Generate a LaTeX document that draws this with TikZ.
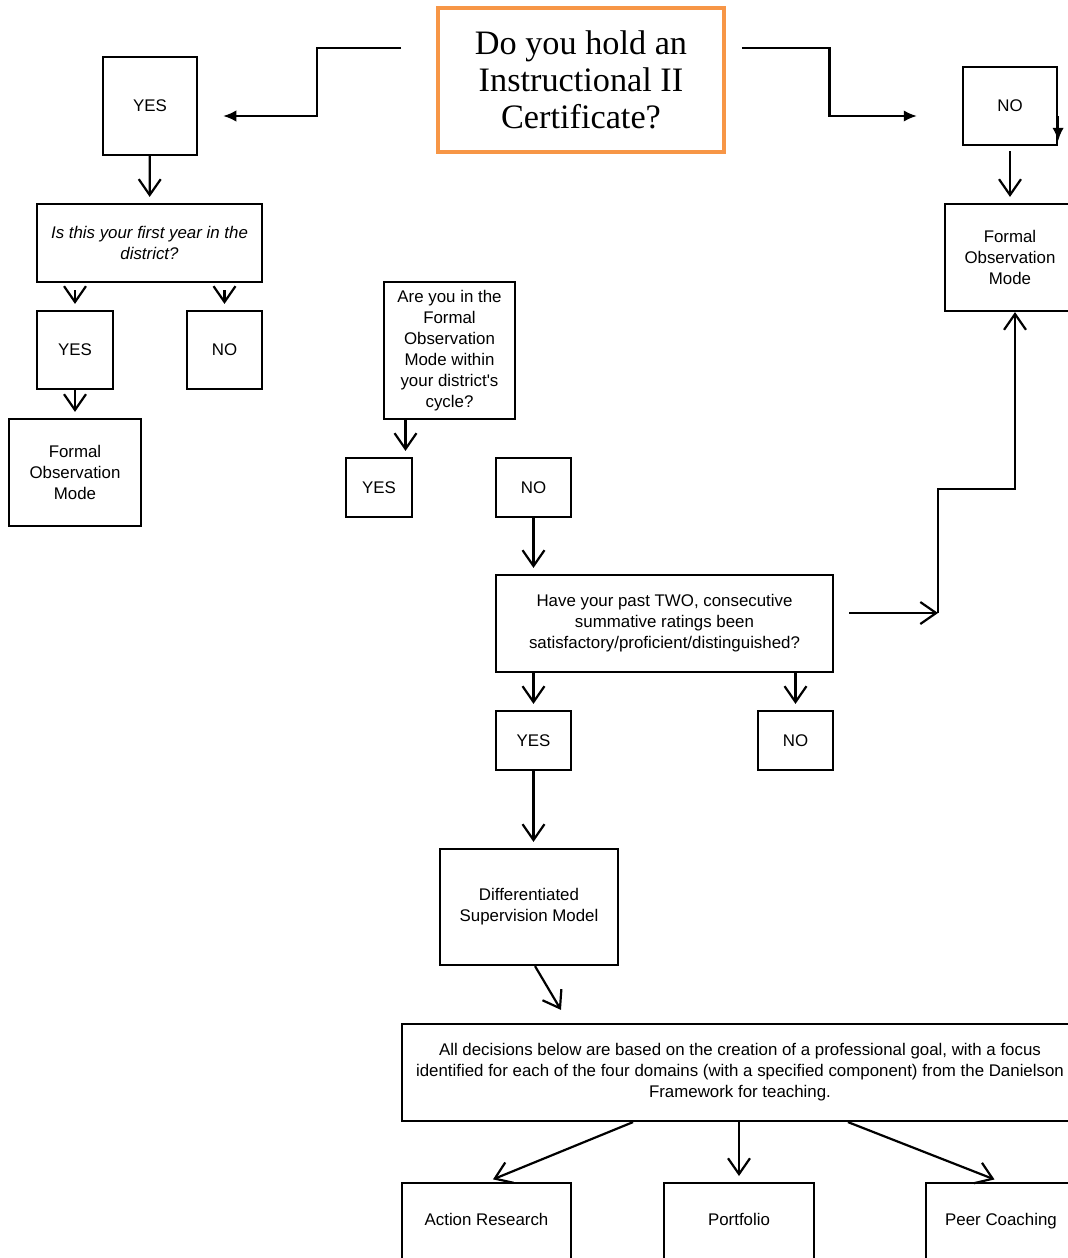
\documentclass[tikz,border=0pt]{standalone}
\usepackage{fontspec}
\setmainfont{Liberation Sans}
\newfontfamily\titlefont{Liberation Serif}
\usepackage{tikz}
\usetikzlibrary{positioning,arrows.meta,calc}
\definecolor{CertOrange}{HTML}{F79646}

\begin{document}
\begin{tikzpicture}[
      x=0.02cm, y=-0.02cm,
      every node/.style={align=center, font=\fontsize{9.6}{11.95}\selectfont},
      box/.style={draw, fill=white, line width=1.25pt, inner sep=0pt},
      leaf/.style={box, anchor=north, minimum width=3cm, inner ysep=0.6cm, text height=0.25cm, text depth=1cm},
      arrow/.style={line width=1.25pt, -{Straight Barb[length=9pt,width=12.5pt]}, shorten >=0.12cm},
      pointer/.style={line width=1.25pt, -{Latex[length=7.5pt,width=6.5pt]}}
    ]
      \useasboundingbox (0,0) rectangle (1068,1258);

      % Question boxes
      \node[box, draw=CertOrange, line width=2.3pt, minimum width=5.72cm, minimum height=2.88cm, font=\titlefont\fontsize{19.5}{21.2}\selectfont] (cert) at (581,80) {Do you hold an\\Instructional II\\Certificate?};

      \node[box, minimum width=1.88cm, minimum height=1.96cm] (yes1) at (150,106) {YES};
      \node[box, minimum width=1.88cm, minimum height=1.56cm] (no1) at (1010,106) {NO};

      \node[box, minimum width=4.5cm, minimum height=1.56cm, font=\fontsize{9.6}{11.95}\selectfont\itshape] (first) at (149.5,243) {Is this your first year in the\\district?};
      \node[box, minimum width=1.52cm, minimum height=1.56cm] (firstyes) at (75,350) {YES};
      \node[box, minimum width=1.5cm, minimum height=1.56cm] (firstno) at (224.5,350) {NO};
      \node[box, minimum width=2.64cm, minimum height=2.14cm] (formal1) at (75,472.5) {Formal\\Observation\\Mode};

      \node[box, minimum width=2.6cm, minimum height=2.14cm] (formal2) at (1010,257.5) {Formal\\Observation\\Mode};

      \node[box, minimum width=2.62cm, minimum height=2.74cm] (cycle) at (449.5,350.5) {Are you in the\\Formal\\Observation\\Mode within\\your district\textquotesingle s\\cycle?};
      \node[box, minimum width=1.32cm, minimum height=1.18cm] (cycleyes) at (379,487.5) {YES};
      \node[box, minimum width=1.5cm, minimum height=1.18cm] (cycleno) at (533.5,487.5) {NO};

      \node[box, minimum width=6.74cm, minimum height=1.94cm] (ratings) at (664.5,623.5) {Have your past TWO, consecutive\\summative ratings been\\satisfactory/proficient/distinguished?};
      \node[box, minimum width=1.5cm, minimum height=1.18cm] (ratingsyes) at (533.5,740.5) {YES};
      \node[box, minimum width=1.5cm, minimum height=1.18cm] (ratingsno) at (795.5,740.5) {NO};

      \node[box, minimum width=3.56cm, minimum height=2.32cm] (dsm) at (529,907) {Differentiated\\Supervision Model};

      \node[box, minimum width=13.52cm, minimum height=1.94cm] (goal) at (740,1072.5) {All decisions below are based on the creation of a professional goal, with a focus\\identified for each of the four domains (with a specified component) from the Danielson\\Framework for teaching.};

      % Supervision options
      \node[leaf, minimum width=3.38cm] (research) at (486.5,1182) {Action Research};
      \node[leaf] (portfolio) at (739,1182) {Portfolio};
      \node[leaf] (coaching) at (1001,1182) {Peer Coaching};

      % Arrows from the certificate question
      \coordinate (lstart) at ([xshift=-0.7cm,yshift=0.64cm]cert.west);
      \coordinate (lend) at ([xshift=0.5cm,yshift=-0.2cm]yes1.east);
      \draw[pointer] (lstart) -| ($(lstart)!0.47!(lend)$) |- (lend);
      \coordinate (rstart) at ([xshift=0.32cm,yshift=0.64cm]cert.east);
      \coordinate (rend) at ([xshift=-0.9cm,yshift=-0.2cm]no1.west);
      \draw[pointer] (rstart) -| ($(rstart)!0.5!(rend)$) |- (rend);
      \draw[pointer] ([yshift=-0.2cm]no1.east) -- ([yshift=-0.7cm]no1.east);

      % Arrows
      \draw[arrow] (yes1) -- (first);
      \draw[arrow, shorten <=0.14cm] (first.south -| firstyes) -- (firstyes);
      \draw[arrow, shorten <=0.14cm] (first.south -| firstno) -- (firstno);
      \draw[arrow] (firstyes) -- (formal1);
      \draw[arrow, shorten <=0.1cm] (no1) -- (formal2);

      \coordinate (cyclefoot) at ([xshift=-0.88cm]cycle.south);
      \draw[arrow] (cyclefoot) -- (cyclefoot |- cycleyes.north);
      \draw[arrow] (cycleno) -- (cycleno |- ratings.north);
      \draw[arrow] (ratings.south -| ratingsyes) -- (ratingsyes);
      \draw[arrow] (ratings.south -| ratingsno) -- (ratingsno);
      \draw[arrow] (ratingsyes) -- (ratingsyes |- dsm.north);

      \coordinate (goalin) at ($(goal.north west)+(160,-13)$);
      \draw[arrow, shorten >=0pt] ([xshift=0.12cm]dsm.south) -- (goalin);

      \coordinate (goalout1) at ([xshift=-2.14cm]goal.south);
      \coordinate (goalout3) at ([xshift=2.16cm]goal.south);
      \draw[arrow, shorten >=0.14cm] (goalout1) -- (research.north);
      \draw[arrow] (goal.south -| portfolio) -- (portfolio);
      \draw[arrow, shorten >=0.14cm] (goalout3) -- (coaching.north);

      % Way back up to the formal observation mode
      \coordinate (bend) at ([xshift=2.08cm,yshift=0.21cm]ratings.east);
      \coordinate (rise) at ([xshift=0.1cm]formal2.south);
      \draw[arrow, shorten >=0pt] ([xshift=0.3cm,yshift=0.21cm]ratings.east) -- (bend);
      \draw[arrow, shorten >=0pt] (bend) -- (bend |- 0,489) -| (rise);

    \end{tikzpicture}
\end{document}
